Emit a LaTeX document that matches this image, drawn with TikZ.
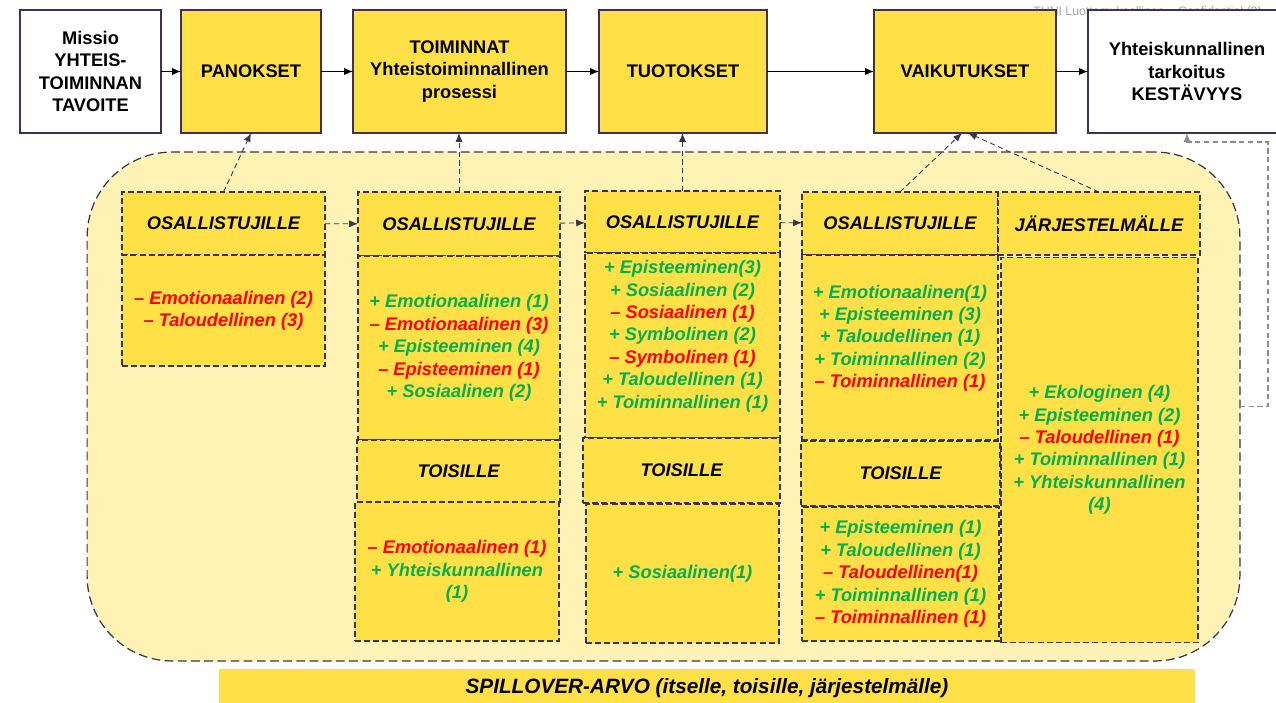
\documentclass[tikz,border=0pt]{standalone}
\usepackage{fontspec}
\setmainfont{Liberation Sans}
\usetikzlibrary{arrows.meta}

\definecolor{gold}{HTML}{FFE047}
\definecolor{pale}{HTML}{FFF2B5}
\definecolor{gaincol}{HTML}{00B050}
\definecolor{losscol}{HTML}{FF0000}
\definecolor{edge}{HTML}{3F3151}

\newcommand{\gainline}[1]{\textcolor{gaincol}{+ #1}}
\newcommand{\lossline}[1]{\textcolor{losscol}{– #1}}

\tikzset{
  topbox/.style={draw=edge, line width=0.7pt, fill=gold, minimum height=2.46cm,
    inner sep=1pt, outer sep=0pt, align=center,
    font=\fontsize{10.4}{12.75}\selectfont\bfseries},
  goalbox/.style={topbox, fill=white},
  cell/.style={draw=edge, dash pattern=on 3.4pt off 1.8pt, line width=0.6pt, fill=gold,
    inner sep=1pt, outer sep=0pt, align=center,
    font=\fontsize{10.4}{12.75}\selectfont\bfseries\itshape},
  region/.style={draw=edge, dash pattern=on 5pt off 2.5pt, line width=0.7pt, fill=pale,
    rounded corners=1.7cm, inner sep=0pt, outer sep=0pt},
  flow/.style={-{Latex[length=5pt,width=4pt]}, line width=0.5pt},
  link/.style={flow, draw=edge, dash pattern=on 3pt off 2pt},
  back/.style={flow, draw=black!45, line width=0.7pt, dash pattern=on 3pt off 2pt}
}

\begin{document}
\begin{tikzpicture}[x=0.02cm, y=-0.02cm]
\useasboundingbox (0,0) rectangle (1276,703);

\node[anchor=base west, inner sep=0pt, text=black!35, font=\fontsize{7}{8}\selectfont] (conf) at (1033,15) {TUNI Luottamuksellinen – Confidential (2)};

% top row
\node[goalbox, minimum width=2.82cm] (missio) at (90.5,71.5) {Missio\\YHTEIS-\\TOIMINNAN\\TAVOITE};
\node[topbox, minimum width=2.80cm] (panokset) at (251,71.5) {PANOKSET};
\node[topbox, minimum width=4.26cm] (toiminnat) at (459.5,71.5) {TOIMINNAT\\Yhteistoiminnallinen\\prosessi};
\node[topbox, minimum width=3.36cm] (tuotokset) at (683,71.5) {TUOTOKSET};
\node[topbox, minimum width=3.64cm] (vaikutukset) at (965,71.5) {VAIKUTUKSET};
\node[goalbox, minimum width=3.96cm] (tarkoitus) at (1187,71.5) {Yhteiskunnallinen\\tarkoitus\\KESTÄVYYS};

\draw[flow] (missio) -- (panokset);
\draw[flow] (panokset) -- (toiminnat);
\draw[flow] (toiminnat) -- (tuotokset);
\draw[flow] (tuotokset) -- (vaikutukset);
\draw[flow] (vaikutukset) -- (tarkoitus);

% spillover area
\node[region, minimum width=23.06cm, minimum height=10.18cm] (spill) at (663.5,406.5) {};
\coordinate (bend) at (1268,142);
\draw[back] (spill.east) -| (bend) -| (tarkoitus.south);

% column 1
\node[cell, minimum width=4.06cm, minimum height=1.26cm] (h1) at (223.5,223.5) {OSALLISTUJILLE};
\node[cell, minimum width=4.06cm, minimum height=2.22cm] (b1) at (223.5,310.5)
  {\lossline{Emotionaalinen (2)}\\\lossline{Taloudellinen (3)}};

% column 2
\node[cell, minimum width=4.04cm, minimum height=1.28cm] (h2) at (459,224) {OSALLISTUJILLE};
\node[cell, minimum width=4.04cm, minimum height=3.68cm] (b2) at (459,348)
  {\gainline{Emotionaalinen (1)}\\\lossline{Emotionaalinen (3)}\\\gainline{Episteeminen (4)}\\\lossline{Episteeminen (1)}\\\gainline{Sosiaalinen (2)}};
\node[cell, minimum width=4.06cm, minimum height=1.24cm] (t2) at (458.5,471) {TOISILLE};
\node[cell, minimum width=4.08cm, minimum height=2.78cm] (tb2) at (457,571.5)
  {\lossline{Emotionaalinen (1)}\\\gainline{Yhteiskunnallinen}\\\textcolor{gaincol}{(1)}};

% column 3
\node[cell, minimum width=3.90cm, minimum height=1.24cm] (h3) at (682.5,222) {OSALLISTUJILLE};
\node[cell, minimum width=3.90cm, minimum height=3.70cm] (b3) at (682.5,345.5)
  {\gainline{Episteeminen(3)}\\\gainline{Sosiaalinen (2)}\\\lossline{Sosiaalinen (1)}\\\gainline{Symbolinen (2)}\\\lossline{Symbolinen (1)}\\\gainline{Taloudellinen (1)}\\\gainline{Toiminnallinen (1)}\\\mbox{}};
\node[cell, minimum width=3.94cm, minimum height=1.30cm] (t3) at (681.5,470.5) {TOISILLE};
\node[cell, minimum width=3.86cm, minimum height=2.78cm] (tb3) at (682.5,573.5)
  {\gainline{Sosiaalinen(1)}};

% column 4
\node[cell, minimum width=3.92cm, minimum height=1.26cm] (h4) at (900,223.5) {OSALLISTUJILLE};
\node[cell, minimum width=3.92cm, minimum height=3.70cm] (b4) at (900,347.5)
  {\gainline{Emotionaalinen(1)}\\\gainline{Episteeminen (3)}\\\gainline{Taloudellinen (1)}\\\gainline{Toiminnallinen (2)}\\\lossline{Toiminnallinen (1)}\\\mbox{}};
\node[cell, minimum width=3.98cm, minimum height=1.30cm] (t4) at (900.5,473.5) {TOISILLE};
\node[cell, minimum width=3.94cm, minimum height=2.68cm] (tb4) at (900.5,574)
  {\gainline{Episteeminen (1)}\\\gainline{Taloudellinen (1)}\\\lossline{Taloudellinen(1)}\\\gainline{Toiminnallinen (1)}\\\lossline{Toiminnallinen (1)}};

% column 5
\node[cell, minimum width=4.04cm, minimum height=1.26cm] (h5) at (1099,223.5) {JÄRJESTELMÄLLE};
\node[cell, minimum width=3.94cm, minimum height=7.72cm] (b5) at (1099.5,450)
  {\gainline{Ekologinen (4)}\\\gainline{Episteeminen (2)}\\\lossline{Taloudellinen (1)}\\\gainline{Toiminnallinen (1)}\\\gainline{Yhteiskunnallinen}\\\textcolor{gaincol}{(4)}};

% links
\draw[link] (h1) -- (h2);
\draw[link] (h2) -- (h3);
\draw[link] (h3) -- (h4);
\draw[link] (h1.north) -- (panokset.south);
\draw[link] (h2.north) -- (h2.north |- toiminnat.south);
\draw[link] (h3.north) -- (h3.north |- tuotokset.south);
\draw[link] (h4.north) -- ([xshift=-0.06cm]vaikutukset.south);
\draw[link] (h5.north) -- ([xshift=0.06cm]vaikutukset.south);

\node[fill=gold, minimum width=19.52cm, minimum height=0.76cm, inner sep=0pt,
  font=\fontsize{11.8}{14}\selectfont\bfseries\itshape] (banner) at (707,688)
  {SPILLOVER-ARVO (itselle, toisille, järjestelmälle)};
\end{tikzpicture}
\end{document}
